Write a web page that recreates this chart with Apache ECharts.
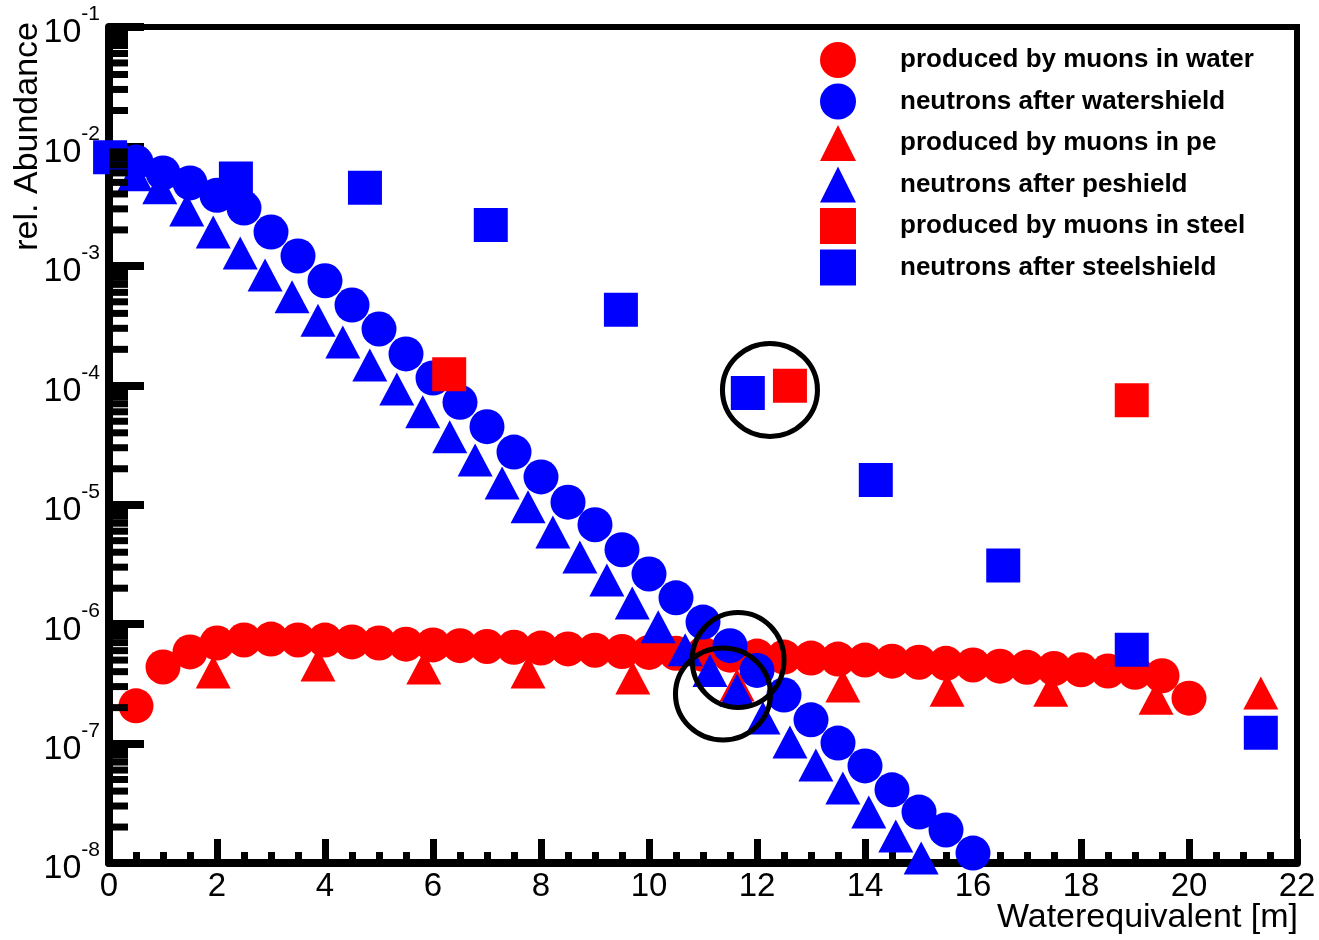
<!DOCTYPE html>
<html>
<head>
<meta charset="utf-8">
<style>
html,body{margin:0;padding:0;background:#fff;}
#chart{width:1319px;height:940px;}
</style>
<script src="https://cdn.jsdelivr.net/npm/echarts@6/dist/echarts.min.js"></script>
</head>
<body>
<div id="chart"></div>
<script>
// ---- data ----
const seriesNames = [
  'produced by muons in water',
  'neutrons after watershield',
  'produced by muons in pe',
  'neutrons after peshield',
  'produced by muons in steel',
  'neutrons after steelshield'
];

const waterMuonX = [0.5,1.0,1.5,2.0,2.5,3.0,3.5,4.0,4.5,5.0,5.5,6.0,6.5,7.0,7.5,8.0,8.5,9.0,9.5,10.0,
  10.5,11.0,11.5,12.0,12.5,13.0,13.5,14.0,14.5,15.0,15.5,16.0,16.5,17.0,17.5,18.0,18.5,19.0,19.5,20.0];
const waterMuonY = [2.07e-7,4.38e-7,5.85e-7,6.95e-7,7.37e-7,7.5e-7,7.37e-7,7.35e-7,7.1e-7,6.95e-7,
  6.8e-7,6.7e-7,6.6e-7,6.5e-7,6.4e-7,6.3e-7,6.2e-7,6.05e-7,5.9e-7,5.8e-7,
  5.7e-7,5.6e-7,5.5e-7,5.4e-7,5.3e-7,5.2e-7,5.1e-7,5.0e-7,4.9e-7,4.8e-7,
  4.7e-7,4.55e-7,4.45e-7,4.35e-7,4.25e-7,4.15e-7,4.05e-7,3.95e-7,3.7e-7,2.4e-7];

const waterShieldX = [0.5,1.0,1.5,2.0,2.5,3.0,3.5,4.0,4.5,5.0,5.5,6.0,6.5,7.0,7.5,8.0,
  8.5,9.0,9.5,10.0,10.5,11.0,11.5,12.0,12.5,13.0,13.5,14.0,14.5,15.0,15.5,16.0];
const waterShieldY = [7.4e-3,6.0e-3,4.95e-3,3.9e-3,3.05e-3,1.92e-3,1.21e-3,7.5e-4,4.7e-4,2.96e-4,
  1.83e-4,1.15e-4,7.2e-5,4.5e-5,2.76e-5,1.71e-5,1.05e-5,6.8e-6,4.2e-6,2.63e-6,
  1.66e-6,1.04e-6,6.6e-7,4.1e-7,2.55e-7,1.58e-7,1.01e-7,6.5e-8,4.1e-8,2.67e-8,1.89e-8,1.21e-8];

const peMuonX = [1.93,3.87,5.83,7.76,9.70,11.63,13.59,15.52,17.44,19.39,21.33];
const peMuonY = [3.97e-7,4.55e-7,4.3e-7,3.97e-7,3.54e-7,3.1e-7,3.03e-7,2.8e-7,2.8e-7,2.4e-7,2.65e-7];

const peShieldX = [0.48,0.94,1.44,1.93,2.43,2.89,3.39,3.87,4.33,4.83,5.33,5.81,6.31,6.78,7.28,7.76,
  8.22,8.72,9.22,9.69,10.17,10.67,11.13,11.63,12.11,12.61,13.09,13.59,14.07,14.57,15.04];
const peShieldY = [5.8e-3,4.5e-3,2.94e-3,1.92e-3,1.28e-3,8.4e-4,5.5e-4,3.5e-4,2.3e-4,1.48e-4,
  9.3e-5,6.0e-5,3.7e-5,2.37e-5,1.52e-5,9.6e-6,5.9e-6,3.65e-6,2.34e-6,1.5e-6,
  9.5e-7,6.1e-7,4.1e-7,2.8e-7,1.64e-7,1.03e-7,6.6e-8,4.25e-8,2.67e-8,1.68e-8,1.1e-8];

const steelMuonX = [6.30,12.61,18.94];
const steelMuonY = [1.24e-4,9.9e-5,7.5e-5];

const steelShieldX = [0.02,2.35,4.74,7.07,9.48,11.83,14.2,16.56,18.94,21.33];
const steelShieldY = [8.1e-3,5.4e-3,4.5e-3,2.2e-3,4.3e-4,8.6e-5,1.61e-5,3.1e-6,6.1e-7,1.23e-7];

// hand-drawn annotation rings (data coordinates)
const ringX = [12.24,11.65,11.37];
const ringY = [9.14e-5,5.01e-7,2.60e-7];

// axis ticks
const xTickInterval = 2;
const yDecadeMin = 1e-8, yDecadeMax = 1e-1;
const yMinorMantissas = [2,3,4,5,6,7,8,9];
const yDecades = [1e-8,1e-7,1e-6,1e-5,1e-4,1e-3,1e-2];

const xTitle = 'Waterequivalent [m]';
const yTitle = 'rel. Abundance';

// ---- build ----
function zip(xs, ys){ return xs.map((x,i)=>[x, ys[i]]); }
const yMinorTicks = [];
yDecades.forEach(d => yMinorMantissas.forEach(m => yMinorTicks.push([0, m*d])));

const FONT = '"Liberation Sans", Arial, Helvetica, sans-serif';
const RED = '#ff0000', BLUE = '#0000ff';

function sc(name, data, symbol, color, size){
  return {
    type:'scatter', name, data, symbol, symbolSize:size,
    itemStyle:{color, opacity:1}, clip:false, z:2
  };
}

const chart = echarts.init(document.getElementById('chart'), null, {renderer:'canvas'});
chart.setOption({
  animation:false,
  backgroundColor:'#fff',
  textStyle:{fontFamily:FONT},
  grid:{left:109, right:22, top:27, bottom:77, show:true, borderColor:'#000', borderWidth:6, backgroundColor:'transparent'},
  legend:{
    data:seriesNames,
    orient:'vertical', left:815, top:37,
    itemWidth:36, itemHeight:36, itemGap:5.5,
    textStyle:{fontSize:26, fontWeight:'bold', color:'#000', fontFamily:FONT, padding:[0,0,0,39]},
    selectedMode:false
  },
  xAxis:{
    type:'value', min:0, max:22, interval:xTickInterval,
    axisLine:{show:true, onZero:false, lineStyle:{color:'#000', width:8}},
    axisTick:{show:true, inside:true, length:24, lineStyle:{color:'#000', width:7}},
    minorTick:{show:true, splitNumber:4, length:11, lineStyle:{color:'#000', width:7}},
    splitLine:{show:false},
    axisLabel:{fontSize:33, color:'#000', margin:7, fontFamily:FONT}
  },
  yAxis:{
    type:'log', logBase:10, min:yDecadeMin, max:yDecadeMax, splitNumber:7,
    axisLine:{show:true, onZero:false, lineStyle:{color:'#000', width:8}},
    axisTick:{show:true, inside:true, length:35, lineStyle:{color:'#000', width:8}},
    splitLine:{show:false},
    axisLabel:{
      margin:9, color:'#000',
      formatter:function(v){
        const e = Math.round(Math.log10(v));
        return '{b|10}{s|' + e + '}';
      },
      rich:{
        b:{fontSize:34, lineHeight:46, verticalAlign:'bottom', fontFamily:FONT, color:'#000'},
        s:{fontSize:21, lineHeight:21, verticalAlign:'top', fontFamily:FONT, color:'#000'}
      }
    }
  },
  graphic:[
    {type:'text', x:1298, y:918, style:{text:xTitle, font:'34px ' + FONT, fill:'#000', textAlign:'right', textVerticalAlign:'middle'}},
    {type:'text', x:28, y:22, rotation:Math.PI/2, style:{text:yTitle, font:'34px ' + FONT, fill:'#000', textAlign:'right', textVerticalAlign:'middle'}}
  ],
  series:[
    {
      type:'custom', name:'yMinorTicks', silent:true, clip:false, z:3,
      data:yMinorTicks,
      renderItem:function(params, api){
        const p = api.coord([api.value(0), api.value(1)]);
        return {type:'line', shape:{x1:p[0], y1:p[1], x2:p[0]+19, y2:p[1]},
          style:{stroke:'#000', lineWidth:7}};
      }
    },
    sc(seriesNames[0], zip(waterMuonX, waterMuonY), 'circle', RED, 35),
    sc(seriesNames[1], zip(waterShieldX, waterShieldY), 'circle', BLUE, 35),
    sc(seriesNames[2], zip(peMuonX, peMuonY), 'triangle', RED, [35,33]),
    sc(seriesNames[3], zip(peShieldX, peShieldY), 'triangle', BLUE, [35,33]),
    sc(seriesNames[4], zip(steelMuonX, steelMuonY), 'rect', RED, 34),
    sc(seriesNames[5], zip(steelShieldX, steelShieldY), 'rect', BLUE, 34),
    {
      type:'scatter', name:'rings', silent:true, clip:false, z:4,
      data:[
        {value:[ringX[0], ringY[0]], symbolSize:[95,93]},
        {value:[ringX[1], ringY[1]], symbolSize:[92,95]},
        {value:[ringX[2], ringY[2]], symbolSize:[95,92]}
      ],
      symbol:'circle',
      itemStyle:{color:'rgba(0,0,0,0)', borderColor:'#000', borderWidth:5, opacity:1}
    }
  ]
});
</script>
</body>
</html>
